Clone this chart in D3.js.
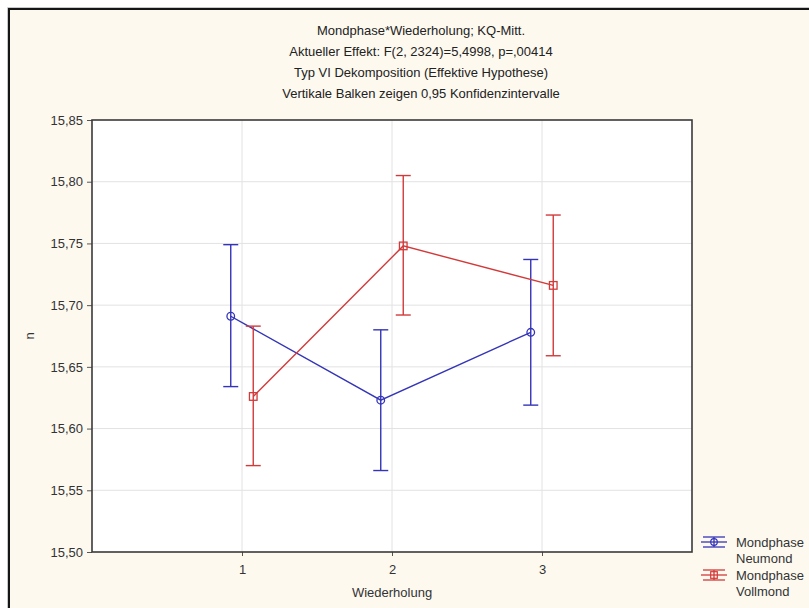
<!DOCTYPE html>
<html>
<head>
<meta charset="utf-8">
<script src="https://cdn.jsdelivr.net/npm/d3@7"></script>
<style>
  html, body { margin: 0; padding: 0; background: #fdf9ef; overflow: hidden; }
  svg { display: block; font-family: "Liberation Sans", Arial, sans-serif; }
</style>
</head>
<body>
<div id="chart"></div>
<script>
// Chart data
var categories = [1, 2, 3];
var seriesNames = ["Neumond", "Vollmond"];
var neumondMean = [15.691, 15.623, 15.678];
var neumondLow = [15.634, 15.566, 15.619];
var neumondHigh = [15.749, 15.680, 15.737];
var vollmondMean = [15.626, 15.748, 15.716];
var vollmondLow = [15.570, 15.692, 15.659];
var vollmondHigh = [15.683, 15.805, 15.773];
var yTicks = [15.50, 15.55, 15.60, 15.65, 15.70, 15.75, 15.80, 15.85];
var titleLines = [
  "Mondphase*Wiederholung; KQ-Mitt.",
  "Aktueller Effekt: F(2, 2324)=5,4998, p=,00414",
  "Typ VI Dekomposition (Effektive Hypothese)",
  "Vertikale Balken zeigen 0,95 Konfidenzintervalle"
];

var W = 809, H = 608;
var plot = { left: 92, right: 692, top: 120, bottom: 552 };

var de = d3.formatLocale({ decimal: ",", thousands: ".", grouping: [3], currency: ["", " €"] });
var fmt = de.format(".2f");

var svg = d3.select('#chart').append('svg')
    .attr('width', W)
    .attr('height', H);

// background; the frame only shows on the top and left edges
svg.append('rect')
   .attr('x', 0).attr('y', 0).attr('width', W).attr('height', H)
   .style('fill', '#fdf9ef');
svg.append('path')
   .attr('d', 'M0,0H' + W + 'V8H8V' + H + 'H0Z')
   .style('fill', '#ffffff');
svg.append('path')
   .attr('d', 'M7.5,' + H + 'V7.5H' + W)
   .style('fill', 'none').style('stroke', '#c8c8c8').style('stroke-width', 1);
svg.append('path')
   .attr('d', 'M9,' + H + 'V9H' + W)
   .style('fill', 'none').style('stroke', '#151515').style('stroke-width', 2);

var x = d3.scaleLinear().domain([0, 4]).range([plot.left, plot.right]);
var y = d3.scaleLinear().domain([15.50, 15.85]).range([plot.bottom, plot.top]);

// plot area
svg.append('rect')
   .attr('x', plot.left).attr('y', plot.top)
   .attr('width', plot.right - plot.left).attr('height', plot.bottom - plot.top)
   .style('fill', '#ffffff');

// grid
svg.append('g').selectAll('line').data(yTicks.slice(1, -1)).enter().append('line')
   .attr('x1', plot.left).attr('x2', plot.right)
   .attr('y1', function(d) { return y(d); }).attr('y2', function(d) { return y(d); })
   .style('stroke', '#e2e2e2').style('stroke-width', 1);
svg.append('g').selectAll('line').data(categories).enter().append('line')
   .attr('y1', plot.top).attr('y2', plot.bottom)
   .attr('x1', function(d) { return x(d); }).attr('x2', function(d) { return x(d); })
   .style('stroke', '#e2e2e2').style('stroke-width', 1);

// axes
var yAxis = svg.append('g')
   .attr('transform', 'translate(' + plot.left + ',0)')
   .call(d3.axisLeft(y).tickValues(yTicks).tickFormat(fmt).tickSize(5).tickPadding(4));
var xAxis = svg.append('g')
   .attr('transform', 'translate(0,' + plot.bottom + ')')
   .call(d3.axisBottom(x).tickValues(categories).tickFormat(d3.format('d')).tickSize(4).tickPadding(9));
[yAxis, xAxis].forEach(function(a) {
  a.select('.domain').remove();
  a.selectAll('line').style('stroke', '#555');
  a.selectAll('text').style('font-size', '13px').style('fill', '#333')
   .style('font-family', '"Liberation Sans", Arial, sans-serif');
});

// plot border
svg.append('rect')
   .attr('x', plot.left).attr('y', plot.top)
   .attr('width', plot.right - plot.left).attr('height', plot.bottom - plot.top)
   .style('fill', 'none').style('stroke', '#3a3a3a').style('stroke-width', 1.6);

// titles
svg.append('g').selectAll('text').data(titleLines).enter().append('text')
   .attr('x', 421)
   .attr('y', function(d, i) { return 35 + i * 21; })
   .attr('text-anchor', 'middle')
   .style('font-size', '13px').style('fill', '#222')
   .text(function(d) { return d; });

// axis titles
svg.append('text')
   .attr('x', plot.left + (plot.right - plot.left) / 2).attr('y', 597)
   .attr('text-anchor', 'middle')
   .style('font-size', '13px').style('fill', '#333')
   .text('Wiederholung');
svg.append('text')
   .attr('transform', 'translate(34,' + ((plot.top + plot.bottom) / 2) + ') rotate(-90)')
   .attr('text-anchor', 'middle')
   .style('font-size', '13px').style('fill', '#333')
   .text('n');

// series
var series = [
  { name: seriesNames[0], mean: neumondMean, low: neumondLow, high: neumondHigh, color: '#3434b8', off: -0.075, marker: 'circle' },
  { name: seriesNames[1], mean: vollmondMean, low: vollmondLow, high: vollmondHigh, color: '#d23a3a', off: 0.075, marker: 'square' }
];
var capW = 7.5;

series.forEach(function(s) {
  var pts = categories.map(function(c, i) {
    return { x: c + s.off, m: s.mean[i], lo: s.low[i], hi: s.high[i] };
  });
  var g = svg.append('g');

  g.append('path')
   .datum(pts)
   .attr('d', d3.line().x(function(d) { return x(d.x); }).y(function(d) { return y(d.m); }))
   .style('fill', 'none').style('stroke', s.color).style('stroke-width', 1.4);

  var eb = g.selectAll('.eb').data(pts).enter().append('g');
  eb.append('line')
    .attr('x1', function(d) { return x(d.x); }).attr('x2', function(d) { return x(d.x); })
    .attr('y1', function(d) { return y(d.lo); }).attr('y2', function(d) { return y(d.hi); })
    .style('stroke', s.color).style('stroke-width', 1.4);
  eb.append('line')
    .attr('x1', function(d) { return x(d.x) - capW; }).attr('x2', function(d) { return x(d.x) + capW; })
    .attr('y1', function(d) { return y(d.hi); }).attr('y2', function(d) { return y(d.hi); })
    .style('stroke', s.color).style('stroke-width', 1.4);
  eb.append('line')
    .attr('x1', function(d) { return x(d.x) - capW; }).attr('x2', function(d) { return x(d.x) + capW; })
    .attr('y1', function(d) { return y(d.lo); }).attr('y2', function(d) { return y(d.lo); })
    .style('stroke', s.color).style('stroke-width', 1.4);

  if (s.marker === 'circle') {
    eb.append('circle')
      .attr('cx', function(d) { return x(d.x); }).attr('cy', function(d) { return y(d.m); })
      .attr('r', 3.8)
      .style('fill', 'none').style('stroke', s.color).style('stroke-width', 1.3);
  } else {
    eb.append('rect')
      .attr('x', function(d) { return x(d.x) - 3.8; }).attr('y', function(d) { return y(d.m) - 3.8; })
      .attr('width', 7.6).attr('height', 7.6)
      .style('fill', 'none').style('stroke', s.color).style('stroke-width', 1.3);
  }
});

// legend
var legend = svg.append('g');
var legendY = [542, 575];
series.forEach(function(s, i) {
  var cy = legendY[i], cx = 714;
  var lg = legend.append('g');
  lg.append('line').attr('x1', cx - 13).attr('x2', cx + 13).attr('y1', cy).attr('y2', cy)
    .style('stroke', s.color).style('stroke-width', 1.3);
  lg.append('line').attr('x1', cx - 11).attr('x2', cx + 11).attr('y1', cy - 5).attr('y2', cy - 5)
    .style('stroke', s.color).style('stroke-width', 1.3);
  lg.append('line').attr('x1', cx - 11).attr('x2', cx + 11).attr('y1', cy + 5).attr('y2', cy + 5)
    .style('stroke', s.color).style('stroke-width', 1.3);
  lg.append('line').attr('x1', cx).attr('x2', cx).attr('y1', cy - 5).attr('y2', cy + 5)
    .style('stroke', s.color).style('stroke-width', 1.3);
  if (s.marker === 'circle') {
    lg.append('circle').attr('cx', cx).attr('cy', cy).attr('r', 3.3)
      .style('fill', 'none').style('stroke', s.color).style('stroke-width', 1.2);
  } else {
    lg.append('rect').attr('x', cx - 3.3).attr('y', cy - 3.3).attr('width', 6.6).attr('height', 6.6)
      .style('fill', 'none').style('stroke', s.color).style('stroke-width', 1.2);
  }
  lg.append('text').attr('x', 736).attr('y', cy + 4.5)
    .style('font-size', '13px').style('fill', '#333').text('Mondphase');
  lg.append('text').attr('x', 736).attr('y', cy + 21)
    .style('font-size', '13px').style('fill', '#333').text(s.name);
});
</script>
</body>
</html>
